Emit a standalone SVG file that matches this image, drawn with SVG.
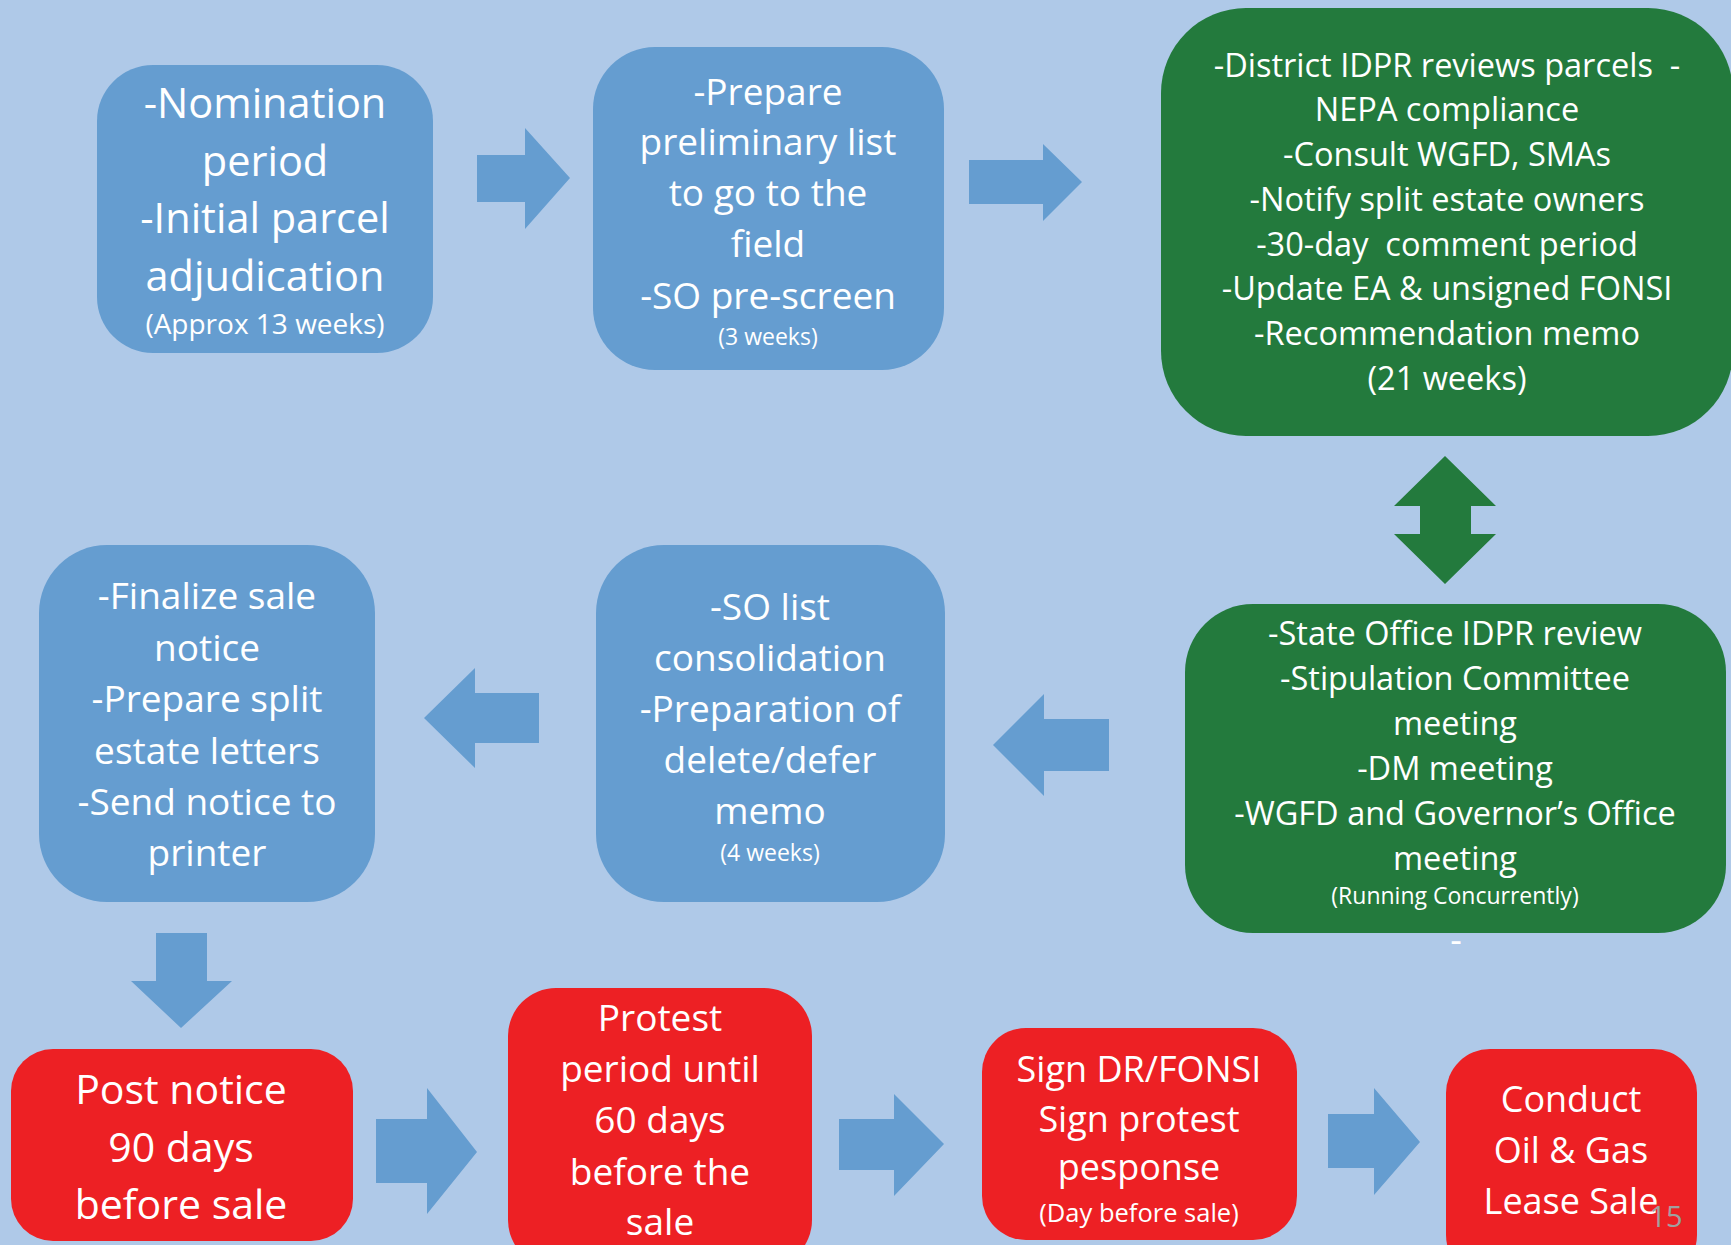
<svg xmlns="http://www.w3.org/2000/svg" width="1731" height="1245" viewBox="0 0 1731 1245">
<style>
.blue{fill:#659dd0}
.green{fill:#237a3d}
.red{fill:#ed2024}
.arrow{fill:#659dd0}
.garrow{fill:#237a3d}
text{font-family:"Open Sans","Liberation Sans",sans-serif;fill:#ffffff;text-anchor:middle}
</style>
<rect x="0" y="0" width="1731" height="1245" fill="#afc9e8"/>
<g id="connectors">
<polygon class="arrow" points="477,155 525,155 525,128 570,178 525,229 525,202 477,202"/>
<polygon class="arrow" points="969,160 1043,160 1043,144 1082,182 1043,221 1043,204 969,204"/>
<polygon class="garrow" points="1445,456 1496,506 1471,506 1471,534 1496,534 1445,584 1394,534 1420,534 1420,506 1394,506"/>
<polygon class="arrow" points="1109,719 1044,719 1044,694 993,745 1044,796 1044,771 1109,771"/>
<polygon class="arrow" points="539,693 475,693 475,668 424,718 475,768 475,743 539,743"/>
<polygon class="arrow" points="156,933 207,933 207,981 232,981 181,1028 131,981 156,981"/>
<polygon class="arrow" points="376,1119 427,1119 427,1088 477,1152 427,1214 427,1183 376,1183"/>
<polygon class="arrow" points="839,1119 894,1119 894,1094 944,1144 894,1196 894,1170 839,1170"/>
<polygon class="arrow" points="1328,1114 1374,1114 1374,1088 1420,1142 1374,1195 1374,1168 1328,1168"/>
</g>
<g id="nomination">
<rect class="blue" x="97" y="65" width="336" height="288" rx="56"/>
<text x="265" y="118" font-size="41.5">-Nomination</text>
<text x="265" y="176" font-size="41.5">period</text>
<text x="265" y="233" font-size="41.5">-Initial parcel</text>
<text x="265" y="291" font-size="41.5">adjudication</text>
<text x="265" y="334" font-size="28">(Approx 13 weeks)</text>
</g>
<g id="prepare">
<rect class="blue" x="593" y="47" width="351" height="323" rx="62"/>
<text x="768" y="105" font-size="37">-Prepare</text>
<text x="768" y="155" font-size="37">preliminary list</text>
<text x="768" y="206" font-size="37">to go to the</text>
<text x="768" y="257" font-size="37">field</text>
<text x="768" y="309" font-size="37">-SO pre-screen</text>
<text x="768" y="345" font-size="23">(3 weeks)</text>
</g>
<g id="district">
<rect class="green" x="1161" y="8" width="572" height="428" rx="85"/>
<text x="1447" y="77" font-size="32.5" xml:space="preserve">-District IDPR reviews parcels  -</text>
<text x="1447" y="121" font-size="32.5">NEPA compliance</text>
<text x="1447" y="166" font-size="32.5">-Consult WGFD, SMAs</text>
<text x="1447" y="211" font-size="32.5">-Notify split estate owners</text>
<text x="1447" y="256" font-size="32.5" xml:space="preserve">-30-day  comment period</text>
<text x="1447" y="300" font-size="32.5">-Update EA &amp; unsigned FONSI</text>
<text x="1447" y="345" font-size="32.5">-Recommendation memo</text>
<text x="1447" y="390" font-size="32.5">(21 weeks)</text>
</g>
<g id="state-office">
<rect class="green" x="1185" y="604" width="541" height="329" rx="68"/>
<text x="1455" y="645" font-size="32.5">-State Office IDPR review</text>
<text x="1455" y="690" font-size="32.5">-Stipulation Committee</text>
<text x="1455" y="735" font-size="32.5">meeting</text>
<text x="1455" y="780" font-size="32.5">-DM meeting</text>
<text x="1455" y="825" font-size="32.5">-WGFD and Governor’s Office</text>
<text x="1455" y="870" font-size="32.5">meeting</text>
<text x="1455" y="904" font-size="23">(Running Concurrently)</text>
<text x="1456" y="953" font-size="36">-</text>
</g>
<g id="so-list">
<rect class="blue" x="596" y="545" width="349" height="357" rx="68"/>
<text x="770" y="620" font-size="37">-SO list</text>
<text x="770" y="671" font-size="37">consolidation</text>
<text x="770" y="722" font-size="37">-Preparation of</text>
<text x="770" y="773" font-size="37">delete/defer</text>
<text x="770" y="824" font-size="37">memo</text>
<text x="770" y="861" font-size="23">(4 weeks)</text>
</g>
<g id="finalize">
<rect class="blue" x="39" y="545" width="336" height="357" rx="68"/>
<text x="207" y="609" font-size="37">-Finalize sale</text>
<text x="207" y="661" font-size="37">notice</text>
<text x="207" y="712" font-size="37">-Prepare split</text>
<text x="207" y="764" font-size="37">estate letters</text>
<text x="207" y="815" font-size="37">-Send notice to</text>
<text x="207" y="866" font-size="37">printer</text>
</g>
<g id="post-notice">
<rect class="red" x="11" y="1049" width="342" height="192" rx="42"/>
<text x="181" y="1104" font-size="41">Post notice</text>
<text x="181" y="1162" font-size="41">90 days</text>
<text x="181" y="1219" font-size="41">before sale</text>
</g>
<g id="protest">
<rect class="red" x="508" y="988" width="304" height="280" rx="48"/>
<text x="660" y="1031" font-size="37">Protest</text>
<text x="660" y="1082" font-size="37">period until</text>
<text x="660" y="1133" font-size="37">60 days</text>
<text x="660" y="1185" font-size="37">before the</text>
<text x="660" y="1235" font-size="37">sale</text>
</g>
<g id="sign">
<rect class="red" x="982" y="1028" width="315" height="212" rx="44"/>
<text x="1139" y="1082" font-size="36">Sign DR/FONSI</text>
<text x="1139" y="1132" font-size="36">Sign protest</text>
<text x="1139" y="1180" font-size="36">pesponse</text>
<text x="1139" y="1222" font-size="25.5">(Day before sale)</text>
</g>
<g id="conduct">
<rect class="red" x="1446" y="1049" width="251" height="230" rx="44"/>
<text x="1571" y="1112" font-size="36">Conduct</text>
<text x="1571" y="1163" font-size="36">Oil &amp; Gas</text>
<text x="1571" y="1214" font-size="36">Lease Sale</text>
</g>
<text x="1666" y="1227" font-size="29" style="fill:#a0a0a0">15</text>
</svg>
